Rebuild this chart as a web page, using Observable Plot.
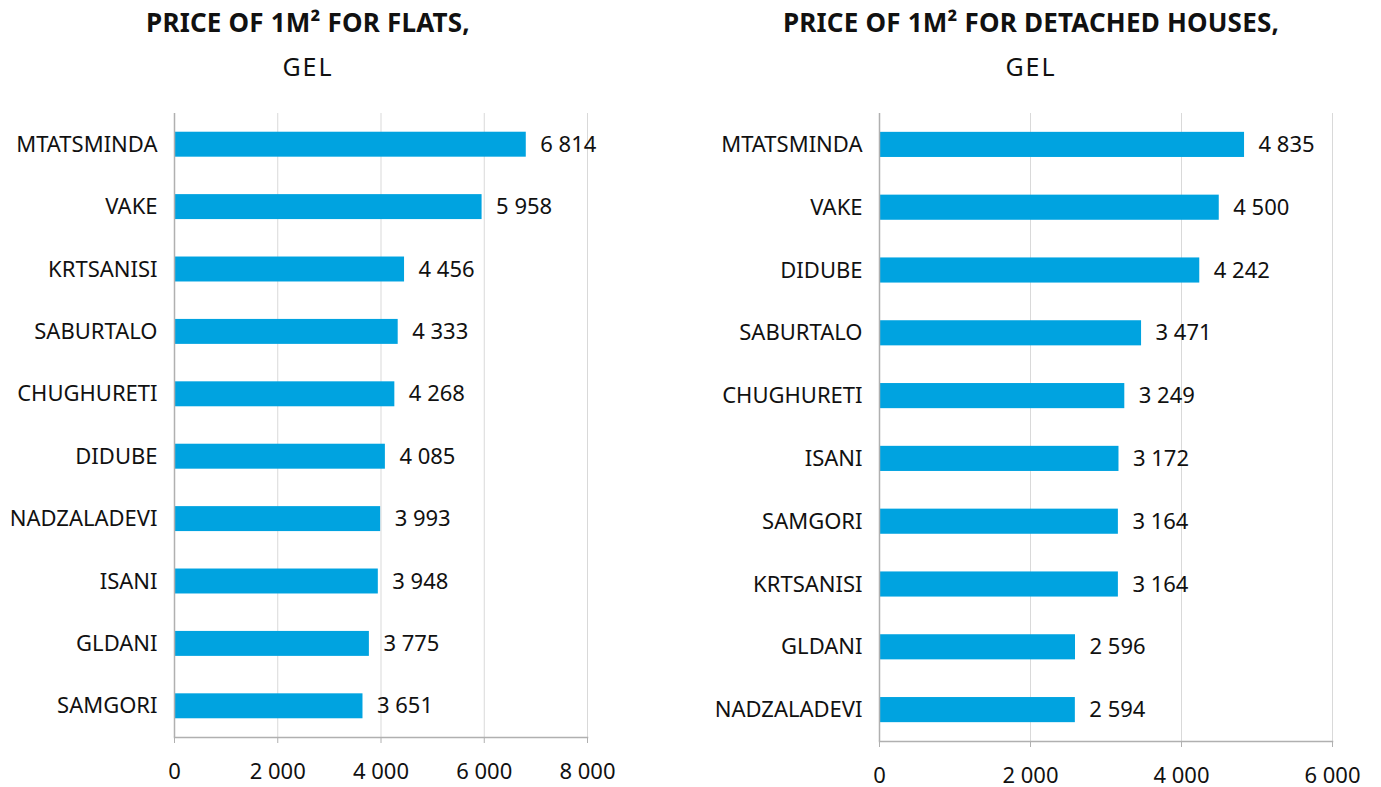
<!DOCTYPE html>
<html>
<head>
<meta charset="utf-8">
<script src="https://cdn.jsdelivr.net/npm/d3@7"></script>
<script src="https://cdn.jsdelivr.net/npm/@observablehq/plot@0.6"></script>
<style>
  html, body { margin: 0; padding: 0; background: #fff; }
  body { width: 1381px; height: 787px; position: relative; overflow: hidden; font-family: "Noto Sans", sans-serif; color: #111; }
  .title { position: absolute; text-align: center; width: 600px; }
  .title .t1 { font-weight: bold; font-size: 26px; line-height: 30px; letter-spacing: 0.2px; }
  .title .t2 { font-size: 25px; line-height: 30px; margin-top: 14px; letter-spacing: 2px; }
  .chart { position: absolute; top: 103px; }
</style>
</head>
<body>
<div class="title" style="left:8px; top:7px;"><div class="t1">PRICE OF 1M² FOR FLATS,</div><div class="t2">GEL</div></div>
<div class="title" style="left:731px; top:7px;"><div class="t1">PRICE OF 1M² FOR DETACHED HOUSES,</div><div class="t2">GEL</div></div>
<div class="chart" id="left" style="left:0px;"></div>
<div class="chart" id="right" style="left:700px;"></div>
<script>
const flatsDistricts = ["MTATSMINDA","VAKE","KRTSANISI","SABURTALO","CHUGHURETI","DIDUBE","NADZALADEVI","ISANI","GLDANI","SAMGORI"];
const flatsValues = [6814,5958,4456,4333,4268,4085,3993,3948,3775,3651];
const flatsTicks = [0,2000,4000,6000,8000];

const housesDistricts = ["MTATSMINDA","VAKE","DIDUBE","SABURTALO","CHUGHURETI","ISANI","SAMGORI","KRTSANISI","GLDANI","NADZALADEVI"];
const housesValues = [4835,4500,4242,3471,3249,3172,3164,3164,2596,2594];
const housesTicks = [0,2000,4000,6000];

const fmt = d3.formatLocale({decimal: ".", thousands: "\u2009", grouping: [3], currency: ["", ""]}).format(",");
const fmtSp = v => fmt(v).replace(/\u2009/g, " ");

function makeChart(districts, values, ticks, opts) {
  const data = districts.map((d, i) => ({district: d, value: values[i]}));
  const maxX = ticks[ticks.length - 1];
  return Plot.plot({
    width: opts.width,
    height: opts.height,
    marginLeft: opts.marginLeft,
    marginRight: opts.marginRight,
    marginTop: 10,
    marginBottom: opts.marginBottom,
    style: {fontFamily: "Noto Sans, sans-serif", fontSize: "22px", color: "#111", background: "transparent", overflow: "visible"},
    x: {domain: [0, maxX], ticks: ticks},
    y: {domain: districts, paddingInner: 0.6, paddingOuter: 0.3, align: 0.5, round: false},
    marks: [
      Plot.gridX(ticks, {stroke: "#d9d9d9", strokeOpacity: 1, strokeWidth: 1}),
      Plot.barX(data, {y: "district", x: "value", fill: "#00a3e0"}),
      Plot.text(data, {y: "district", x: "value", text: d => fmtSp(d.value), textAnchor: "start", dx: 14, fill: "#111", fontSize: 22}),
      Plot.ruleX([0], {stroke: "#b0b0b0", strokeWidth: 1.5}),
      Plot.frame({anchor: "bottom", stroke: "#b0b0b0", strokeWidth: 1.5}),
      Plot.axisX(ticks, {tickSize: 6, tickPadding: 20, stroke: "#b0b0b0", tickFormat: fmtSp, fontSize: 22, fill: "#111", label: null}),
      Plot.axisY({tickSize: 0, tickPadding: 17, fontSize: 22, fill: "#111", label: null})
    ]
  });
}

document.getElementById("left").appendChild(
  makeChart(flatsDistricts, flatsValues, flatsTicks, {width: 640, height: 684, marginLeft: 174, marginRight: 53, marginBottom: 50})
);
document.getElementById("right").appendChild(
  makeChart(housesDistricts, housesValues, housesTicks, {width: 681, height: 684, marginLeft: 179, marginRight: 49, marginBottom: 46})
);
</script>
</body>
</html>
